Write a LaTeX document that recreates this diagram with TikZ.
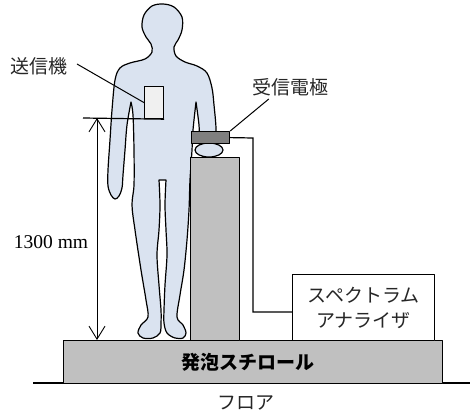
\documentclass[tikz,border=0pt]{standalone}
\usepackage{fontspec}
\setmainfont{Liberation Serif}
\newfontfamily\jp{Noto Sans CJK JP}
\usetikzlibrary{arrows.meta,calc,shapes.geometric}
\definecolor{skin}{HTML}{DAE3F0}
\definecolor{block}{HTML}{C0C0C0}
\definecolor{elecgray}{HTML}{7F7F7F}
\definecolor{txfill}{HTML}{F0F0F0}
\tikzset{
  outline/.style={draw=black,line width=1.2pt,line join=round},
  boxnode/.style={outline,inner sep=0pt,anchor=north west},
  jplabel/.style={font=\jp\fontsize{19}{24}\selectfont,inner sep=1pt,text=black!85},
  leader/.style={draw=black,line width=1pt},
  dimarrow/.style={draw=black,line width=0.9pt,{Straight Barb[length=13pt,width=16pt]}-{Straight Barb[length=13pt,width=16pt]}}
}
\begin{document}
\begin{tikzpicture}[x=1pt,y=-1pt]
\useasboundingbox (0,0) rectangle (471,414);

% floor and foam platform
\coordinate (floorL) at (33,383);
\coordinate (floorR) at (470,383);
\draw[line width=1.2pt] (floorL) -- (floorR);
\node[boxnode,fill=block,minimum width=379pt,minimum height=43pt] (foam) at (63,340) {};
\node[font=\jp\bfseries\fontsize{19}{24}\selectfont] (foamlabel) at (248,362) {発泡スチロール};
\node[jplabel] (floorlabel) at (246,403) {フロア};

% human figure
\path[outline,fill=skin]
  plot[smooth,tension=0.55] coordinates {(131,102) (133,115) (134,150) (134,185) (132,205) (135,230) (141,270) (146,300) (148,317) (141,325) (138,333) (143,338) (153,338) (160,333) (161,323) (161,310) (159,285) (157,255) (159,230) (160,205) (159,180)}
  -- (166,180)
  -- plot[smooth,tension=0.55] coordinates {(166,180) (165,205) (166,230) (167,255) (165,285) (164,310) (164,323) (167,333) (175,338) (183,338) (186,333) (183,325) (177,317) (180,295) (184,270) (187,240) (189,210) (190,180) (192,150) (193,130) (196,102)}
  -- plot[smooth,tension=0.55] coordinates {(196,102) (199,125) (200,145) (203,158)}
  -- plot[smooth,tension=0.55] coordinates {(216,152) (216,128) (214,105) (212,88) (207,73) (197,66) (185,62) (176,56) (174,47) (178,40) (182,30) (182,17) (174,7) (163,4) (152,6) (144,15) (142,27) (146,37) (151,44) (152,52) (145,59) (130,63) (120,68) (115,80) (112,110) (110,140) (108,170) (108,186) (111,195) (115,199) (119,196) (122,188) (123,175) (125,150) (127,125) (131,102)}
  -- cycle;

% support column, hand and receiving electrode
\node[boxnode,fill=block,minimum width=49pt,minimum height=183pt] (column) at (190,157) {};
\node[outline,fill=skin,ellipse,minimum width=28pt,minimum height=14pt,inner sep=0pt] (fist) at (209,150) {};
\node[boxnode,fill=elecgray,minimum width=38pt,minimum height=12pt] (elec) at (191,131) {};

% spectrum analyzer and cable
\node[boxnode,fill=white,minimum width=142pt,minimum height=66pt] (sa) at (292,274) {};
\node[jplabel,align=center,font=\jp\fontsize{19}{25}\selectfont] (salabel) at (sa.center) {スペクトラム\\アナライザ};
\coordinate (cablebend) at (253,138);
\coordinate (cablein) at (292,312);
\draw[line width=1.2pt] (elec.east) -- (cablebend) |- (cablein);

% transmitter on the chest
\node[boxnode,fill=txfill,minimum width=19pt,minimum height=32pt] (tx) at (144,86) {};
\coordinate (refL) at (83,118);
\draw[line width=1.2pt] (refL) -- (tx.south east);

% height dimension
\coordinate (dimtop) at (97,118);
\coordinate (dimbot) at (foam.north -| dimtop);
\draw[dimarrow] (dimtop) -- (dimbot);
\node[font=\fontsize{19.5}{22}\selectfont,inner sep=1pt] (dimlabel) at (51,242) {1300 mm};

% labels with leader lines
\node[jplabel] (txlabel) at (39,66) {送信機};
\draw[leader] (77,64) -- (tx.west);
\node[jplabel] (rxlabel) at (290,87) {受信電極};
\coordinate (rxlead) at ($(rxlabel.south west)!0.23!(rxlabel.south east)+(0,2)$);
\draw[leader] (rxlead) -- (elec.north east);
\end{tikzpicture}
\end{document}
